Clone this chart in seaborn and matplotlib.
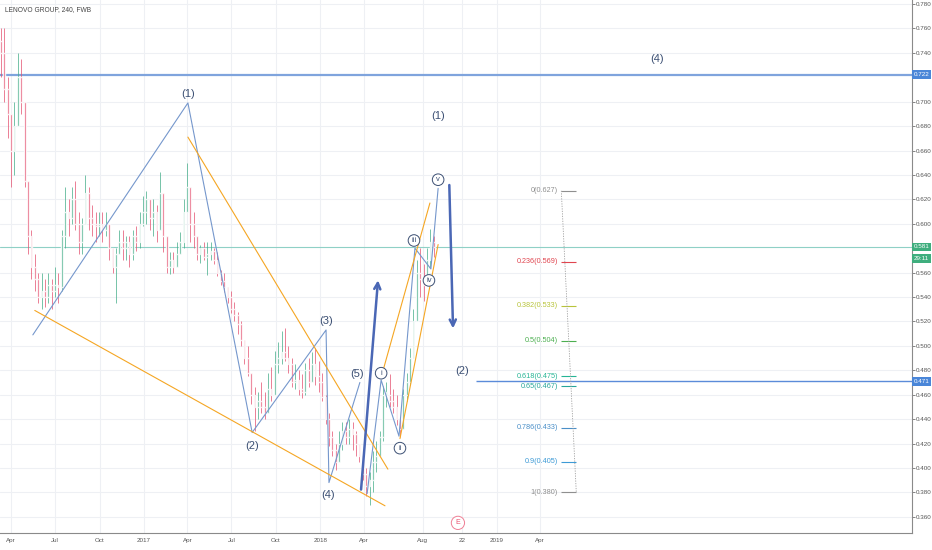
import numpy as np
import pandas as pd
import matplotlib
matplotlib.use('Agg')
import matplotlib.pyplot as plt
import matplotlib.dates as mdates
import matplotlib.transforms as mtransforms
import seaborn as sns

sns.set_theme(style='white')
plt.rcParams['font.family'] = ['Liberation Sans', 'DejaVu Sans']

# %%
# weekly candles, first week 2016-03-11
first_week = '2016-03-11'
first_open = 0.75
close = [0.74, 0.71, 0.69, 0.66, 0.68, 0.72, 0.70, 0.635, 0.59, 0.565,
         0.555, 0.54, 0.545, 0.54, 0.55, 0.545, 0.55, 0.548, 0.59, 0.61,
         0.605, 0.62, 0.60, 0.585, 0.60, 0.625, 0.605, 0.60, 0.598, 0.60,
         0.595, 0.60, 0.58, 0.565, 0.575, 0.585, 0.58, 0.585, 0.575, 0.59,
         0.585, 0.60, 0.61, 0.62, 0.605, 0.61, 0.595, 0.625, 0.59, 0.565,
         0.57, 0.565, 0.575, 0.585, 0.61, 0.63, 0.60, 0.59, 0.575, 0.58,
         0.573, 0.575, 0.578, 0.57, 0.56, 0.553, 0.548, 0.54, 0.53, 0.525,
         0.518, 0.505, 0.49, 0.478, 0.46, 0.45, 0.455, 0.45, 0.445, 0.465,
         0.46, 0.485, 0.49, 0.495, 0.49, 0.485, 0.47, 0.472, 0.465, 0.462,
         0.48, 0.47, 0.485, 0.475, 0.47, 0.458, 0.44, 0.425, 0.415, 0.405,
         0.42, 0.43, 0.425, 0.432, 0.428, 0.42, 0.41, 0.395, 0.385, 0.39,
         0.405, 0.41, 0.425, 0.46, 0.46, 0.455, 0.45, 0.44, 0.432, 0.46,
         0.47, 0.49, 0.52, 0.56, 0.555, 0.55, 0.57, 0.585, 0.581]
high = [0.76, 0.76, 0.72, 0.69, 0.70, 0.74, 0.735, 0.70, 0.60, 0.595,
        0.575, 0.56, 0.56, 0.555, 0.56, 0.555, 0.565, 0.56, 0.595, 0.63,
        0.62, 0.63, 0.635, 0.61, 0.605, 0.64, 0.63, 0.615, 0.61, 0.61,
        0.61, 0.61, 0.59, 0.58, 0.58, 0.595, 0.595, 0.59, 0.59, 0.595,
        0.598, 0.61, 0.623, 0.627, 0.62, 0.62, 0.615, 0.642, 0.62, 0.58,
        0.577, 0.577, 0.585, 0.593, 0.62, 0.65, 0.628, 0.61, 0.585, 0.583,
        0.585, 0.585, 0.585, 0.58, 0.577, 0.562, 0.56, 0.548, 0.545, 0.536,
        0.528, 0.52, 0.505, 0.50, 0.478, 0.466, 0.462, 0.47, 0.462, 0.478,
        0.483, 0.496, 0.503, 0.512, 0.515, 0.50, 0.49, 0.485, 0.48, 0.477,
        0.486, 0.49, 0.495, 0.498, 0.488, 0.478, 0.46, 0.445, 0.43, 0.42,
        0.43, 0.438, 0.438, 0.44, 0.438, 0.43, 0.42, 0.41, 0.40, 0.397,
        0.414, 0.422, 0.43, 0.467, 0.47, 0.477, 0.465, 0.46, 0.44, 0.465,
        0.478, 0.498, 0.53, 0.57, 0.58, 0.567, 0.58, 0.596, 0.59]
low = [0.72, 0.70, 0.67, 0.63, 0.64, 0.68, 0.69, 0.63, 0.575, 0.555,
       0.545, 0.535, 0.53, 0.532, 0.535, 0.53, 0.54, 0.535, 0.545, 0.58,
       0.59, 0.60, 0.595, 0.575, 0.575, 0.60, 0.595, 0.59, 0.585, 0.59,
       0.585, 0.59, 0.57, 0.56, 0.535, 0.575, 0.57, 0.57, 0.565, 0.57,
       0.578, 0.58, 0.598, 0.60, 0.595, 0.59, 0.585, 0.60, 0.577, 0.56,
       0.559, 0.56, 0.565, 0.575, 0.58, 0.61, 0.585, 0.58, 0.57, 0.568,
       0.57, 0.558, 0.57, 0.567, 0.557, 0.55, 0.544, 0.535, 0.527, 0.52,
       0.51, 0.50, 0.485, 0.475, 0.452, 0.43, 0.44, 0.445, 0.44, 0.452,
       0.455, 0.465, 0.478, 0.485, 0.488, 0.478, 0.466, 0.465, 0.46, 0.457,
       0.46, 0.466, 0.47, 0.468, 0.462, 0.455, 0.436, 0.418, 0.41, 0.398,
       0.405, 0.415, 0.42, 0.42, 0.415, 0.41, 0.405, 0.39, 0.377, 0.37,
       0.38, 0.397, 0.41, 0.422, 0.45, 0.45, 0.445, 0.435, 0.425, 0.432,
       0.455, 0.468, 0.49, 0.525, 0.54, 0.537, 0.555, 0.565, 0.573]

# elliott wave drawing
wave_dates = ['2016-05-16', '2017-04-02', '2017-08-13', '2018-01-13', '2018-01-19', '2018-03-24']
wave_prices = [0.509, 0.699, 0.429, 0.513, 0.388, 0.470]
wave_labels = ['(1)', '(2)', '(3)', '(4)', '(5)']
wave_label_dates = ['2017-04-02', '2017-08-13', '2018-01-13', '2018-01-17', '2018-03-18']
wave_label_prices = [0.7065, 0.418, 0.520, 0.378, 0.477]

sub_dates = ['2018-04-08', '2018-05-07', '2018-06-13', '2018-07-16', '2018-08-18', '2018-09-02']
sub_prices = [0.379, 0.472, 0.426, 0.580, 0.563, 0.629]
sub_labels = ['i', 'ii', 'iii', 'iv', 'v']
sub_label_dates = ['2018-05-07', '2018-06-15', '2018-07-14', '2018-08-14', '2018-09-02']
sub_label_prices = [0.4776, 0.4162, 0.5863, 0.5536, 0.6361]

# future count
future_labels = ['(1)', '(2)', '(4)']
future_dates = ['2018-09-02', '2018-10-21', '2019-11-30']
future_prices = [0.6885, 0.4791, 0.7351]

# orange trend lines: (start date, end date, start price, end price)
trend_lines = [('2017-04-02', '2018-05-21', 0.671, 0.399),
               ('2016-05-20', '2018-05-15', 0.529, 0.369),
               ('2018-05-09', '2018-08-16', 0.477, 0.617),
               ('2018-06-15', '2018-09-02', 0.424, 0.583)]

# thick arrows
arrows = [('2018-03-26', 0.380, '2018-05-01', 0.556),
          ('2018-09-25', 0.634, '2018-10-03', 0.512)]

# fib retracement
fib_ratio = ['0', '0.236', '0.382', '0.5', '0.618', '0.65', '0.786', '0.9', '1']
fib_price = [0.627, 0.569, 0.533, 0.504, 0.475, 0.467, 0.433, 0.405, 0.380]
fib_color = ['#8f8f8f', '#e0454f', '#b8c43a', '#4caf50', '#26b595', '#26a69a',
             '#4a8fc8', '#3d9ad6', '#8f8f8f']
fib_start, fib_end, fib_text = '2019-05-15', '2019-06-15', '2019-05-08'

# horizontal levels
level_top = 0.722
level_last = 0.581
level_low = 0.471
level_low_start = '2018-11-19'
earnings_date, earnings_price = '2018-10-13', 0.355

tick_dates = ['2016-04-01', '2016-07-01', '2016-10-01', '2017-01-01', '2017-04-01', '2017-07-01',
              '2017-10-01', '2018-01-01', '2018-04-01', '2018-08-01', '2018-10-22', '2019-01-01',
              '2019-04-01']
tick_labels = ['Apr', 'Jul', 'Oct', '2017', 'Apr', 'Jul', 'Oct', '2018', 'Apr', 'Aug', '22', '2019', 'Apr']
y_ticks = [0.36, 0.38, 0.40, 0.42, 0.44, 0.46, 0.48, 0.50, 0.52, 0.54, 0.56,
           0.60, 0.62, 0.64, 0.66, 0.68, 0.70, 0.74, 0.76, 0.78]


def dn(d):
    return mdates.date2num(pd.to_datetime(d))


# %%
fig = plt.figure(figsize=(9.32, 5.5), dpi=100)
ax = fig.add_axes([0, 17 / 550, 912 / 932, 533 / 550])

# candles
df = pd.DataFrame({'date': pd.date_range(first_week, periods=len(close), freq='7D'),
                   'open': [first_open] + close[:-1], 'high': high, 'low': low, 'close': close})
df['x'] = mdates.date2num(df['date'])
cols = np.where(df['close'] >= df['open'], '#43ad88', '#e4506f')
top = np.maximum.reduce([df['high'], df['open'], df['close']])
bot = np.minimum.reduce([df['low'], df['open'], df['close']])
ax.vlines(df['x'], bot, top, colors=cols, lw=0.6, alpha=0.85, zorder=2)
body = np.maximum(np.abs(df['close'] - df['open']), 0.002)
ax.bar(df['x'], body, bottom=np.minimum(df['open'], df['close']), width=3.6,
       color=cols, alpha=0.85, zorder=2)

# horizontal levels
ax.axhline(level_top, color='#7fa4dd', lw=1.6, zorder=1)
ax.axhline(level_last, color='#8fd0c6', lw=0.8, zorder=1)
ax.hlines(level_low, dn(level_low_start), dn('2021-05-10'), color='#5b8bd9', lw=1.0, zorder=1)

# waves
wave = pd.DataFrame({'x': dn(wave_dates), 'y': wave_prices})
sns.lineplot(data=wave, x='x', y='y', sort=False, estimator=None, color='#7597cc', lw=0.8, ax=ax)
sub = pd.DataFrame({'x': dn(sub_dates), 'y': sub_prices})
sns.lineplot(data=sub, x='x', y='y', sort=False, estimator=None, color='#7597cc', lw=0.8, ax=ax)

for d0, d1, p0, p1 in trend_lines:
    ax.plot([dn(d0), dn(d1)], [p0, p1], color='#f5a623', lw=0.8, zorder=3)

for d0, p0, d1, p1 in arrows:
    ax.annotate('', xy=(dn(d1), p1), xytext=(dn(d0), p0),
                arrowprops=dict(arrowstyle='->', color='#4a67b5', lw=1.8, mutation_scale=11))

txt_col = '#3b4f73'
for lab, d, p in zip(wave_labels, wave_label_dates, wave_label_prices):
    ax.text(dn(d), p, lab, ha='center', va='center', fontsize=8, color=txt_col)
for lab, d, p in zip(future_labels, future_dates, future_prices):
    ax.text(dn(d), p, lab, ha='center', va='center', fontsize=8, color=txt_col)
for lab, d, p in zip(sub_labels, sub_label_dates, sub_label_prices):
    ax.text(dn(d), p, lab, ha='center', va='center', fontsize=5.5, color=txt_col, zorder=5,
            bbox=dict(boxstyle='circle,pad=0.3', fc='white', ec=txt_col, lw=0.7))

# fib retracement
ax.hlines(fib_price, dn(fib_start), dn(fib_end), colors=fib_color, lw=0.8)
ax.plot([dn(fib_start), dn(fib_end)], [fib_price[0], fib_price[-1]],
        color='#a0a0a0', lw=0.6, ls=(0, (1.5, 1.5)))
for r, p, c in zip(fib_ratio, fib_price, fib_color):
    ax.text(dn(fib_text), p, f'{r}({p:.3f})', ha='right', va='center', fontsize=5.2, color=c)

# earnings marker
ax.text(dn(earnings_date), earnings_price, 'E', ha='center', va='center', fontsize=5,
        color='#e8506f', bbox=dict(boxstyle='circle,pad=0.45', fc='white', ec='#ef7f95', lw=0.7))

ax.text(0.005, 0.988, 'LENOVO GROUP, 240, FWB', transform=ax.transAxes, fontsize=4.8,
        color='#444444', va='top', ha='left')

# axes
ax.set_xlim(dn('2016-03-09'), dn('2021-05-10'))
ax.set_ylim(0.3467, 0.7833)
ax.set_xticks(dn(tick_dates))
ax.set_xticklabels(tick_labels)
ax.set_yticks(y_ticks)
ax.set_yticklabels([f'{v:.3f}' for v in y_ticks])
ax.yaxis.tick_right()
ax.tick_params(axis='both', labelsize=4.5, colors='#555555', length=2, width=0.5, pad=1.5)
ax.tick_params(axis='y', pad=1)
ax.grid(True, color='#eef0f4', lw=0.8)
ax.set_xlabel('')
ax.set_ylabel('')
for s in ['top', 'left']:
    ax.spines[s].set_visible(False)
for s in ['right', 'bottom']:
    ax.spines[s].set_color('#8a8a8a')
    ax.spines[s].set_linewidth(0.8)

trans = mtransforms.blended_transform_factory(ax.transAxes, ax.transData)
boxes = [(level_top, f'{level_top:.3f}', '#4a86d8'),
         (level_low, f'{level_low:.3f}', '#4a86d8'),
         (level_last, f'{level_last:.3f}', '#3fae7e'),
         (level_last - 0.0095, '29:11', '#3fae7e')]
for p, s, c in boxes:
    ax.text(1.002, p, s, transform=trans, ha='left', va='center', fontsize=4.5, color='white',
            clip_on=False, zorder=6, bbox=dict(boxstyle='square,pad=0.3', fc=c, ec='none'))

fig.savefig('out.png', dpi=100, facecolor='white')
